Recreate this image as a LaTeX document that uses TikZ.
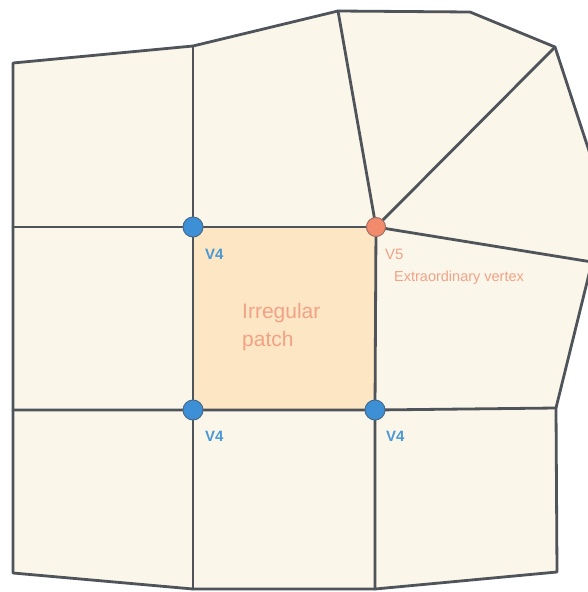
\documentclass[tikz,border=0pt]{standalone}
\usepackage{fontspec}
\setmainfont{Liberation Sans}
\definecolor{cream}{HTML}{FBF6EA}
\definecolor{patchfill}{HTML}{FCE6C4}
\definecolor{edge}{HTML}{4F535A}
\definecolor{bluedot}{HTML}{3D8FD6}
\definecolor{bluetxt}{HTML}{4A98D4}
\definecolor{orangedot}{HTML}{F28B6B}
\definecolor{orangetxt}{HTML}{F2A286}
\begin{document}
\begin{tikzpicture}[x=1pt,y=-1pt,
  meshline/.style={draw=edge,line width=2.8pt,line join=round,line cap=round},
  regvert/.style={circle,fill=bluedot,draw=edge!60!bluedot,line width=1pt,minimum size=20pt,inner sep=0pt},
  extvert/.style={circle,fill=orangedot,draw=edge!50!orangedot,line width=1pt,minimum size=19pt,inner sep=0pt},
  vlabel/.style={anchor=base west,inner sep=0pt,text=bluetxt,font=\fontsize{15}{18}\selectfont\bfseries},
  olabel/.style={anchor=base west,inner sep=0pt,text=orangetxt},
]
\useasboundingbox (0,0) rectangle (588,592);
\clip (0,0) rectangle (588,592);
% boundary points
\coordinate (tl) at (13,63);
\coordinate (tm) at (193,46);
\coordinate (t1) at (338,11);
\coordinate (t2) at (470,12);
\coordinate (tr) at (555,47);
\coordinate (r1) at (592,160);
\coordinate (r2) at (592,262);
\coordinate (r3) at (556,408);
\coordinate (br) at (557,572);
\coordinate (bm2) at (375,589);
\coordinate (bm1) at (193,589);
\coordinate (bl) at (13,573);
\coordinate (l1) at (13,227);
\coordinate (l2) at (13,410);
% inner vertices
\coordinate (a) at (193,227);
\coordinate (b) at (376,227);
\coordinate (c) at (193,410);
\coordinate (d) at (375,410);
% fills
\fill[cream] (tl) -- (tm) -- (t1) -- (t2) -- (tr) -- (r1) -- (r2) -- (r3) -- (br) -- (bm2) -- (bm1) -- (bl) -- cycle;
\fill[patchfill] (a) -- (b) -- (d) -- (c) -- cycle;
% edges
\draw[meshline] (tl) -- (tm) -- (t1) -- (t2) -- (tr) -- (r1) -- (r2) -- (r3) -- (br) -- (bm2) -- (bm1) -- (bl) -- cycle;
\draw[meshline] (tm) -- (a) -- (c) -- (bm1);
\draw[meshline] (b) -- (d) -- (bm2);
\draw[meshline] (l1) -- (a) -- (b);
\draw[meshline] (l2) -- (c) -- (d) -- (r3);
\draw[meshline] (b) -- (t1);
\draw[meshline] (b) -- (tr);
\draw[meshline] (b) -- (r2);
% vertices
\node[regvert] (va) at (a) {};
\node[regvert] (vc) at (c) {};
\node[regvert] (vd) at (d) {};
\node[extvert] (vb) at (b) {};
% labels
\node[vlabel] (la) at (205,259) {V4};
\node[vlabel] (lc) at (205,441) {V4};
\node[vlabel] (ld) at (386,441) {V4};
\node[olabel,font=\fontsize{15}{18}\selectfont] (lb) at (385,259) {V5};
\node[olabel,font=\fontsize{14.5}{17}\selectfont] (lx) at (394,281) {Extraordinary vertex};
\node[olabel,font=\fontsize{21}{25}\selectfont] (p1) at (242,318) {Irregular};
\node[olabel,font=\fontsize{21}{25}\selectfont] (p2) at (242,346) {patch};
\end{tikzpicture}
\end{document}
